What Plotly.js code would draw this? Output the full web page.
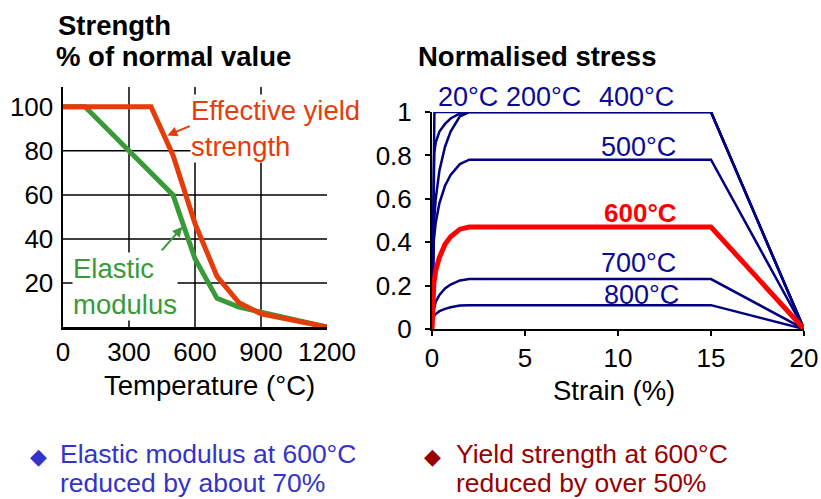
<!DOCTYPE html>
<html>
<head>
<meta charset="utf-8">
<script src="https://cdn.plot.ly/plotly-3.0.1.min.js"></script>
<style>html,body{margin:0;padding:0;background:#fff;}#chart{width:821px;height:499px;}</style>
</head>
<body>
<div id="chart"></div>
<script>
// ---------- Left chart data: strength (% of normal value) vs temperature ----------
var temperatureC   = [0, 100, 200, 300, 400, 500, 600, 700, 800, 900, 1000, 1100, 1200];
var yieldStrength  = [100, 100, 100, 100, 100, 78, 47, 23, 11, 6, 4, 2, 0];
var elasticModulus = [100, 100, 90, 80, 70, 60, 31, 13, 9, 6.75, 4.5, 2.25, 0];
var leftXTicks = [0, 300, 600, 900, 1200];
var leftYTicks = [20, 40, 60, 80, 100];
var leftGridX = [300, 600, 900];
var leftGridY = [20, 40, 60, 80];

// ---------- Right chart data: normalised stress vs strain (%) ----------
var strain20 = [0, 0.13, 15, 20];
var stress20 = [0, 1, 1, 0];
var strain200 = [0, 0.12, 0.2, 0.4, 0.7, 1.0, 1.5, 2, 15, 20];
var stress200 = [0, 0.81, 0.86, 0.91, 0.945, 0.97, 0.993, 1, 1, 0];
var strainHot = [0, 0.08, 0.1, 0.2, 0.4, 0.7, 1.0, 1.5, 2, 15, 20];
var stress400 = [0, 0.42, 0.48, 0.60, 0.73, 0.84, 0.91, 0.98, 1, 1, 0];
var stress500 = [0, 0.36, 0.41, 0.49, 0.58, 0.66, 0.71, 0.76, 0.78, 0.78, 0];
var stress600 = [0, 0.18, 0.21, 0.27, 0.33, 0.39, 0.425, 0.46, 0.47, 0.47, 0];
var stress700 = [0, 0.075, 0.09, 0.125, 0.157, 0.187, 0.205, 0.224, 0.23, 0.23, 0];
var stress800 = [0, 0.05, 0.057, 0.069, 0.082, 0.093, 0.10, 0.108, 0.11, 0.11, 0];
var rightXTicks = [0, 5, 10, 15, 20];
var rightYTicks = [0, 0.2, 0.4, 0.6, 0.8, 1];

// ---------- Text ----------
var leftTitle1 = 'Strength';
var leftTitle2 = '% of normal value';
var rightTitle = 'Normalised stress';
var leftXTitle = 'Temperature (°C)';
var rightXTitle = 'Strain (%)';
var yieldLabel = 'Effective yield<br>strength';
var elasticLabel = 'Elastic<br>modulus';
var tempLabels = ['20°C', '200°C', '400°C', '500°C', '600°C', '700°C', '800°C'];
var bullet1 = ['Elastic modulus at 600°C', 'reduced by about 70%'];
var bullet2 = ['Yield strength at 600°C', 'reduced by over 50%'];

// ---------- Layout helpers ----------
var W = 821, H = 499;
function px(x) { return x / W; }
function py(y) { return 1 - y / H; }
var FONT = 'Liberation Sans, Arial, sans-serif';
var NAVY = '#000080';
var NAVYTXT = '#0a0a96';
var ORANGE = '#e63c0a';
var GREEN = '#3a9a3a';

var traces = [
  {x: temperatureC, y: elasticModulus, xaxis: 'x', yaxis: 'y', mode: 'lines',
   line: {color: GREEN, width: 5}, cliponaxis: false},
  {x: temperatureC, y: yieldStrength, xaxis: 'x', yaxis: 'y', mode: 'lines',
   line: {color: ORANGE, width: 5}, cliponaxis: false},
  {x: strain20, y: stress20, xaxis: 'x2', yaxis: 'y2', mode: 'lines', line: {color: NAVY, width: 2.5}},
  {x: strain200, y: stress200, xaxis: 'x2', yaxis: 'y2', mode: 'lines', line: {color: NAVY, width: 2.5}},
  {x: strainHot, y: stress400, xaxis: 'x2', yaxis: 'y2', mode: 'lines', line: {color: NAVY, width: 2.5}},
  {x: strainHot, y: stress500, xaxis: 'x2', yaxis: 'y2', mode: 'lines', line: {color: NAVY, width: 2.5}},
  {x: strainHot, y: stress700, xaxis: 'x2', yaxis: 'y2', mode: 'lines', line: {color: NAVY, width: 2.5}},
  {x: strainHot, y: stress800, xaxis: 'x2', yaxis: 'y2', mode: 'lines', line: {color: NAVY, width: 2.5}},
  {x: strainHot, y: stress600, xaxis: 'x2', yaxis: 'y2', mode: 'lines', line: {color: '#ff0000', width: 5}}
];

var shapes = [];
leftGridY.forEach(function (v) {
  shapes.push({type: 'line', xref: 'x', yref: 'y', x0: 0, x1: 1200, y0: v, y1: v,
               line: {color: '#000', width: 1.5}, layer: 'below'});
});
leftGridX.forEach(function (v) {
  shapes.push({type: 'line', xref: 'x', yref: 'y domain', x0: v, x1: v, y0: 0, y1: 1,
               line: {color: '#000', width: 1.5}, layer: 'below'});
});

function txt(text, x, y, opts) {
  var a = {text: text, xref: 'paper', yref: 'paper', x: px(x), y: py(y),
           xanchor: 'left', yanchor: 'middle', showarrow: false,
           font: {family: FONT, size: 26, color: '#000'}};
  for (var k in opts) { a[k] = opts[k]; }
  return a;
}

var annotations = [
  txt('<b>' + leftTitle1 + '</b>', 56, 25, {font: {family: FONT, size: 27.5, color: '#000'}}),
  txt('<b>' + leftTitle2 + '</b>', 54, 56, {font: {family: FONT, size: 27.5, color: '#000'}}),
  txt('<b>' + rightTitle + '</b>', 416, 56, {font: {family: FONT, size: 27.5, color: '#000'}}),
  txt(leftXTitle, 209, 385, {xanchor: 'center', font: {family: FONT, size: 27.5, color: '#000'}}),
  txt(rightXTitle, 614, 390, {xanchor: 'center', font: {family: FONT, size: 27.5, color: '#000'}}),
  txt(yieldLabel, 190, 129, {align: 'left', bgcolor: '#fff', borderpad: 0,
      font: {family: FONT, size: 27.5, color: ORANGE}}),
  txt(elasticLabel, 72, 286, {align: 'left', bgcolor: '#fff', borderpad: 0,
      font: {family: FONT, size: 27.5, color: GREEN}}),
  // arrows
  {xref: 'x', yref: 'y', x: 474, y: 87, text: '', showarrow: true, arrowhead: 2, arrowsize: 1,
   arrowwidth: 2, arrowcolor: ORANGE, ax: 24, ay: -10, standoff: 0},
  {xref: 'x', yref: 'y', x: 543, y: 45.5, text: '', showarrow: true, arrowhead: 2, arrowsize: 1,
   arrowwidth: 2, arrowcolor: GREEN, ax: -22, ay: 25, standoff: 0},
  // temperature labels
  txt(tempLabels[0], 436, 97, {font: {family: FONT, size: 27, color: NAVYTXT}}),
  txt(tempLabels[1], 504, 97, {font: {family: FONT, size: 27, color: NAVYTXT}}),
  txt(tempLabels[2], 597, 97, {font: {family: FONT, size: 27, color: NAVYTXT}}),
  txt(tempLabels[3], 599, 147, {font: {family: FONT, size: 27, color: NAVYTXT}}),
  txt('<b>' + tempLabels[4] + '</b>', 602, 213, {font: {family: FONT, size: 26, color: '#ff0000'}}),
  txt(tempLabels[5], 599, 263, {font: {family: FONT, size: 27, color: NAVYTXT}}),
  txt(tempLabels[6], 602, 295, {font: {family: FONT, size: 27, color: NAVYTXT}}),
  // bullets
  txt('◆', 28, 456, {font: {family: 'DejaVu Sans, sans-serif', size: 22, color: '#3333cc'}}),
  txt(bullet1[0], 58, 454, {font: {family: FONT, size: 26.5, color: '#3333cc'}}),
  txt(bullet1[1], 58, 483, {font: {family: FONT, size: 26.5, color: '#3333cc'}}),
  txt('◆', 422, 456, {font: {family: 'DejaVu Sans, sans-serif', size: 22, color: '#990000'}}),
  txt(bullet2[0], 454, 454, {font: {family: FONT, size: 26.5, color: '#990000'}}),
  txt(bullet2[1], 454, 483, {font: {family: FONT, size: 26.5, color: '#990000'}})
];

var layout = {
  width: W, height: H, autosize: false, showlegend: false,
  margin: {l: 0, r: 0, t: 0, b: 0, pad: 0},
  paper_bgcolor: '#fff', plot_bgcolor: 'rgba(0,0,0,0)',
  font: {family: FONT, size: 26, color: '#000'},
  xaxis: {domain: [px(63), px(327)], range: [0, 1200], anchor: 'y',
          tickvals: leftXTicks, ticktext: leftXTicks.map(String), ticks: '',
          showgrid: false, zeroline: false, showline: true, linecolor: '#000', linewidth: 2.5,
          ticklabelstandoff: 0, tickfont: {family: FONT, size: 26, color: '#000'}},
  yaxis: {domain: [py(327), py(87)], range: [0, 109], anchor: 'x',
          tickvals: leftYTicks, ticktext: leftYTicks.map(String), ticks: '',
          showgrid: false, zeroline: false, showline: true, linecolor: '#000', linewidth: 2.5,
          ticklabelstandoff: 2, tickfont: {family: FONT, size: 26, color: '#000'}},
  xaxis2: {domain: [px(432), px(804)], range: [0, 20], anchor: 'y2',
           tickvals: rightXTicks, ticktext: rightXTicks.map(String), ticks: 'outside', ticklen: 5,
           tickwidth: 2, tickcolor: '#000',
           showgrid: false, zeroline: false, showline: true, linecolor: '#000', linewidth: 2,
           ticklabelstandoff: 0, tickfont: {family: FONT, size: 26, color: '#000'}},
  yaxis2: {domain: [py(329), py(112)], range: [0, 1], anchor: 'x2',
           tickvals: rightYTicks, ticktext: rightYTicks.map(String), ticks: 'outside', ticklen: 5,
           tickwidth: 2, tickcolor: '#000',
           showgrid: false, zeroline: false, showline: true, linecolor: '#000', linewidth: 2,
           ticklabelstandoff: 8, tickfont: {family: FONT, size: 26, color: '#000'}},
  shapes: shapes,
  annotations: annotations
};

Plotly.newPlot('chart', traces, layout, {displayModeBar: false, staticPlot: true});
</script>
</body>
</html>
